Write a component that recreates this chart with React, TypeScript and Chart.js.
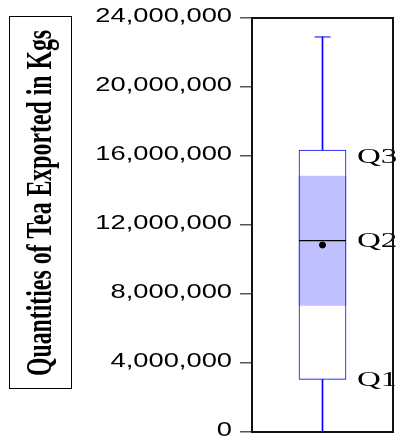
import React, { useEffect, useRef } from "react";
import { Chart, registerables } from "chart.js";

Chart.register(...registerables);

const categories = ["Tea Exports"];
const minValues = [0];
const q1Values = [3050000];
const ciLowValues = [7320000];
const medianValues = [11090000];
const meanValues = [10840000];
const ciHighValues = [14860000];
const q3Values = [16350000];
const maxValues = [22900000];
const yTickValues = [0, 4000000, 8000000, 12000000, 16000000, 20000000, 24000000];
const quartileLabels = ["Q1", "Q2", "Q3"];
const yTitle = "Quantities of Tea Exported in Kgs";

const TICK_SX = 1.4;
const Q_SX = 1.65;
const TITLE_SX = 1.47;
const Q_DY = [1, 1, 7.5];
const BLUE = "#0000ff";

const fmt = (v: number) => v.toLocaleString("en-US");

const decorPlugin = {
  id: "decor",
  afterDraw(chart: any) {
    const ctx = chart.ctx as CanvasRenderingContext2D;
    const ys = chart.scales.y;
    const ca = chart.chartArea;
    ctx.save();
    // tick labels
    ctx.fillStyle = "#000";
    ctx.font = '19.5px "Liberation Sans", Arial, sans-serif';
    ctx.textAlign = "right";
    ctx.textBaseline = "middle";
    ys.ticks.forEach((t: any) => {
      const py = ys.getPixelForValue(t.value);
      ctx.save();
      ctx.translate(ca.left - 20, py - 1.5);
      ctx.scale(TICK_SX, 1);
      ctx.fillText(fmt(t.value), 0, 0);
      ctx.restore();
    });
    // quartile labels
    const qv = [q1Values[0], medianValues[0], q3Values[0]];
    ctx.font = '20px "Liberation Serif", "Times New Roman", serif';
    ctx.textAlign = "left";
    quartileLabels.forEach((lab, i) => {
      const py = ys.getPixelForValue(qv[i]);
      ctx.save();
      ctx.translate(357, py + Q_DY[i]);
      ctx.scale(Q_SX, 1);
      ctx.fillText(lab, 0, 0);
      ctx.restore();
    });
    // plot border
    ctx.strokeStyle = "#111";
    ctx.lineWidth = 2;
    ctx.strokeRect(ca.left, ca.top, ca.right - ca.left, ca.bottom - ca.top);
    // title box
    ctx.lineWidth = 1;
    ctx.strokeStyle = "#000";
    ctx.strokeRect(9.5, 16.5, 62, 372);
    ctx.save();
    ctx.translate(42, 203);
    ctx.scale(TITLE_SX, 1);
    ctx.rotate(-Math.PI / 2);
    ctx.font = 'bold 23.8px "Liberation Serif", "Times New Roman", serif';
    ctx.textAlign = "center";
    ctx.textBaseline = "middle";
    ctx.fillText(yTitle, 0, 0);
    ctx.restore();
    ctx.restore();
  },
};

export default function App() {
  const ref = useRef<HTMLCanvasElement>(null);
  useEffect(() => {
    if (!ref.current) return;
    const chart = new Chart(ref.current, {
      type: "bar",
      data: {
        labels: categories,
        datasets: [
          {
            type: "line",
            label: "Mean",
            data: meanValues,
            showLine: false,
            pointStyle: "circle",
            pointRadius: 3,
            backgroundColor: "#000",
            borderColor: "#000",
            order: 1,
          } as any,
          {
            type: "line",
            label: "Median",
            data: medianValues,
            showLine: false,
            pointStyle: "line",
            pointRadius: 23.5,
            borderColor: "#000",
            borderWidth: 1.3,
            order: 2,
          } as any,
          {
            type: "line",
            label: "Max cap",
            data: maxValues,
            showLine: false,
            pointStyle: "line",
            pointRadius: 8,
            borderColor: BLUE,
            borderWidth: 1,
            order: 3,
          } as any,
          {
            type: "line",
            label: "Min cap",
            data: minValues,
            showLine: false,
            pointStyle: "line",
            pointRadius: 8,
            borderColor: BLUE,
            borderWidth: 1,
            order: 3,
          } as any,
          {
            label: "CI",
            data: [[ciLowValues[0], ciHighValues[0]]],
            backgroundColor: "#c0c0ff",
            borderColor: BLUE,
            borderWidth: { left: 1, right: 1, top: 0, bottom: 0 },
            borderSkipped: false,
            barThickness: 47,
            grouped: false,
            order: 5,
          } as any,
          {
            label: "Box",
            data: [[q1Values[0], q3Values[0]]],
            backgroundColor: "#ffffff",
            borderColor: BLUE,
            borderWidth: 1,
            borderSkipped: false,
            barThickness: 47,
            grouped: false,
            order: 6,
          } as any,
          {
            label: "Upper whisker",
            data: [[q3Values[0], maxValues[0]]],
            backgroundColor: BLUE,
            borderWidth: 0,
            barThickness: 1,
            grouped: false,
            order: 7,
          } as any,
          {
            label: "Lower whisker",
            data: [[minValues[0], q1Values[0]]],
            backgroundColor: BLUE,
            borderWidth: 0,
            barThickness: 1,
            grouped: false,
            order: 7,
          } as any,
        ],
      },
      options: {
        animation: false,
        responsive: true,
        maintainAspectRatio: false,
        layout: { autoPadding: false, padding: { left: 240, top: 18, right: 3, bottom: 4 } },
        plugins: { legend: { display: false }, tooltip: { enabled: false } },
        scales: {
          x: { type: "category", display: false },
          y: {
            type: "linear",
            min: yTickValues[0],
            max: yTickValues[yTickValues.length - 1],
            afterBuildTicks: (s: any) => {
              s.ticks = yTickValues.map((v) => ({ value: v }));
            },
            afterFit: (s: any) => {
              s.width = 12;
            },
            ticks: { display: false },
            border: { display: false },
            grid: {
              drawOnChartArea: false,
              drawTicks: true,
              tickLength: 12,
              color: "#555",
              lineWidth: 1.5,
            },
          },
        },
      },
      plugins: [decorPlugin],
    } as any);
    return () => chart.destroy();
  }, []);
  return (
    <div style={{ position: "fixed", left: 0, top: 0, width: 396, height: 436, background: "#fff" }}>
      <canvas ref={ref} />
    </div>
  );
}
